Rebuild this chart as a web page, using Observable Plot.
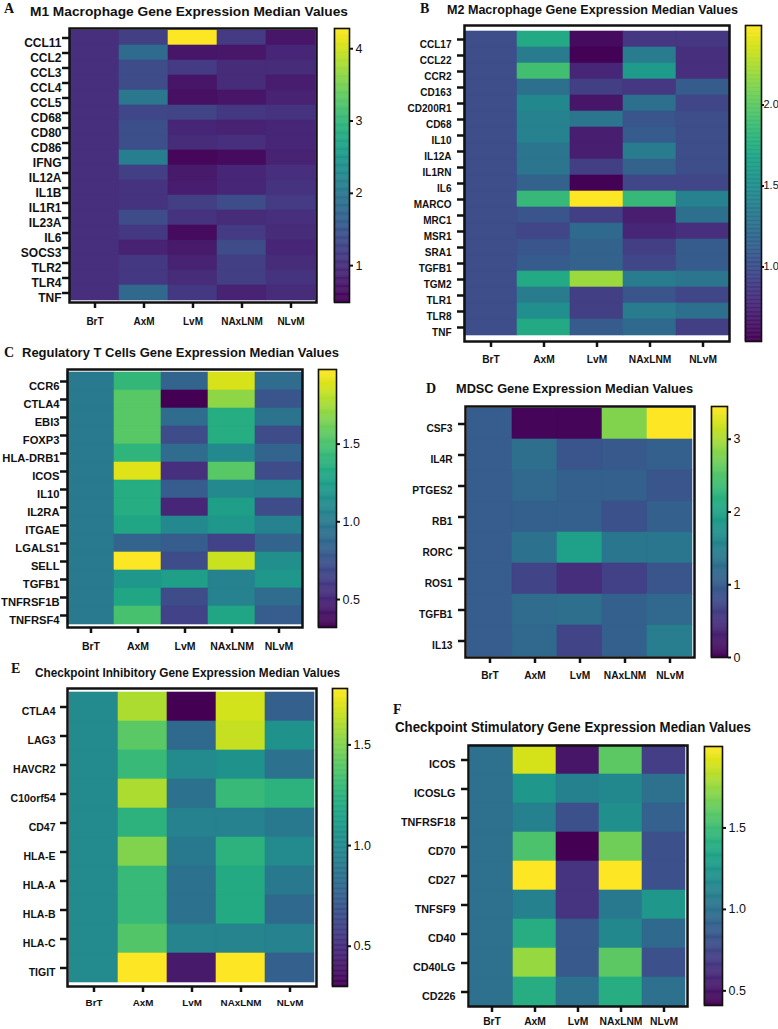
<!DOCTYPE html>
<html><head><meta charset="utf-8">
<script src="https://cdn.jsdelivr.net/npm/d3@7"></script>
<script src="https://cdn.jsdelivr.net/npm/@observablehq/plot@0.6"></script>
<style>
body{margin:0;background:#fff;}
#fig{position:relative;width:778px;height:1029px;overflow:hidden;background:#fff;font-family:"Liberation Sans",Arial,sans-serif;}
#fig > svg{position:absolute;max-width:none;}
</style></head><body><div id="fig"></div>
<script>
const groups = ["BrT","AxM","LvM","NAxLNM","NLvM"];

const genesA = ["CCL11","CCL2","CCL3","CCL4","CCL5","CD68","CD80","CD86","IFNG","IL12A","IL1B","IL1R1","IL23A","IL6","SOCS3","TLR2","TLR4","TNF"];
const valuesA = [
  [1,1.2,4.28,1.15,0.7],
  [1,1.8,0.7,0.72,0.9],
  [1,1.35,1.15,0.95,0.95],
  [1,1.35,0.7,0.95,0.8],
  [1,2.0,0.65,0.7,0.85],
  [1,1.3,1.25,1.1,1.05],
  [1,1.4,0.9,0.85,0.9],
  [1,1.4,0.95,1.0,0.9],
  [1,2.1,0.55,0.6,0.85],
  [1,1.2,0.75,0.9,1.0],
  [1,1.05,0.8,0.9,1.05],
  [1,1.05,1.2,1.35,1.15],
  [1,1.35,1.05,0.95,1.0],
  [1,1.1,0.6,1.15,0.95],
  [1,0.85,0.75,1.35,0.9],
  [1,1.1,0.85,1.2,0.95],
  [1,1.1,0.95,1.2,1.05],
  [1,1.75,1.1,0.85,0.95]
];
const ticksA = [1,2,3,4];

const genesB = ["CCL17","CCL22","CCR2","CD163","CD200R1","CD68","IL10","IL12A","IL1RN","IL6","MARCO","MRC1","MSR1","SRA1","TGFB1","TGM2","TLR1","TLR8","TNF"];
const valuesB = [
  [1,1.72,0.6,0.85,0.85],
  [1,1.35,0.55,1.35,0.8],
  [1,1.9,0.75,1.6,0.8],
  [1,1.25,0.9,0.85,1.1],
  [1,1.45,0.65,1.25,0.95],
  [1,1.4,1.3,1.05,1.0],
  [1,1.4,0.7,1.1,1.0],
  [1,1.3,0.7,1.35,1.0],
  [1,1.3,0.9,1.15,1.0],
  [1,1.15,0.55,0.95,0.95],
  [1,1.85,2.49,1.85,1.4],
  [1,1.05,0.9,0.7,1.25],
  [1,0.95,1.2,0.75,0.8],
  [1,1.05,1.15,0.9,1.1],
  [1,1.1,1.15,0.95,1.1],
  [1,1.72,2.2,1.35,1.3],
  [1,1.35,0.9,1.05,0.95],
  [1,1.5,0.9,1.35,1.25],
  [1,1.72,1.1,1.2,0.9]
];
const ticksB = [1.0,1.5,2.0];

const genesC = ["CCR6","CTLA4","EBI3","FOXP3","HLA-DRB1","ICOS","IL10","IL2RA","ITGAE","LGALS1","SELL","TGFB1","TNFRSF1B","TNFRSF4"];
const valuesC = [
  [1,1.42,0.85,1.88,0.9],
  [1,1.55,0.32,1.7,0.75],
  [1,1.55,0.9,1.35,0.95],
  [1,1.55,0.7,1.35,0.7],
  [1,1.4,0.9,1.1,0.85],
  [1,1.9,0.55,1.55,0.7],
  [1,1.35,0.8,1.1,1.05],
  [1,1.35,0.5,1.25,0.7],
  [1,1.3,1.1,1.2,1.05],
  [1,0.85,0.8,0.65,0.85],
  [1,1.98,0.7,1.85,1.15],
  [1,1.2,1.25,1.05,1.2],
  [1,1.3,0.7,1.05,0.9],
  [1,1.5,0.65,1.3,0.8]
];
const ticksC = [0.5,1.0,1.5];

const genesD = ["CSF3","IL4R","PTGES2","RB1","RORC","ROS1","TGFB1","IL13"];
const valuesD = [
  [1,0.05,0.05,2.8,3.45],
  [1,1.25,0.9,0.95,1.05],
  [1,1.15,1.05,1.05,0.9],
  [1,1.05,1.05,0.85,1.05],
  [1,1.3,1.95,1.35,1.35],
  [1,0.7,0.45,0.65,0.9],
  [1,1.2,1.25,1.05,1.15],
  [1,1.15,0.7,1.05,1.45]
];
const ticksD = [0,1,2,3];

const genesE = ["CTLA4","LAG3","HAVCR2","C10orf54","CD47","HLA-E","HLA-A","HLA-B","HLA-C","TIGIT"];
const valuesE = [
  [1,1.6,0.30,1.68,0.75],
  [1,1.4,0.8,1.65,1.05],
  [1,1.3,1.0,1.05,0.85],
  [1,1.6,0.85,1.3,1.25],
  [1,1.25,0.95,0.95,0.9],
  [1,1.5,0.9,1.25,1.0],
  [1,1.3,0.85,1.2,0.9],
  [1,1.3,0.85,1.2,0.8],
  [1,1.38,0.97,0.97,0.95],
  [1,1.78,0.4,1.78,0.75]
];
const ticksE = [0.5,1.0,1.5];

const genesF = ["ICOS","ICOSLG","TNFRSF18","CD70","CD27","TNFSF9","CD40","CD40LG","CD226"];
const valuesF = [
  [1,1.9,0.5,1.6,0.7],
  [1,1.25,1.1,1.15,1.0],
  [1,1.1,0.8,1.2,0.9],
  [1,1.55,0.41,1.65,0.8],
  [1,2.0,0.65,2.0,0.8],
  [1,1.1,0.65,1.05,1.25],
  [1,1.4,0.85,1.15,0.95],
  [1,1.75,0.85,1.6,0.8],
  [1,1.4,1.0,1.4,1.0]
];
const ticksF = [0.5,1.0,1.5];

const titles = [
  {letter:"A", text:"M1 Macrophage Gene Expression Median Values"},
  {letter:"B", text:"M2 Macrophage Gene Expression Median Values"},
  {letter:"C", text:"Regulatory T Cells Gene Expression Median Values"},
  {letter:"D", text:"MDSC Gene Expression Median Values"},
  {letter:"E", text:"Checkpoint Inhibitory Gene Expression Median Values"},
  {letter:"F", text:"Checkpoint Stimulatory Gene Expression Median Values"}
];

const FONT = '"Liberation Sans", Arial, Helvetica, sans-serif';
const fig = document.getElementById("fig");

function place(svg, left, top){
  svg.style.left = left + "px";
  svg.style.top = top + "px";
  fig.appendChild(svg);
}

function colorOpt(lo, hi){
  return {type:"linear", scheme:"viridis", domain:[lo,hi], clamp:true};
}

function heat(p){
  const data = p.genes.flatMap((g,i)=>groups.map((c,j)=>({gene:g, group:c, value:p.values[i][j]})));
  const top = p.y0 - 10;
  const svg = Plot.plot({
    width: p.x1 - p.left + 10,
    height: p.y1 - top + 40,
    marginLeft: p.x0 - p.left, marginRight: 10, marginTop: 10, marginBottom: 40,
    style: {fontFamily: FONT, background: "transparent", color: "#111"},
    x: {domain: groups, padding: 0, axis: null},
    y: {domain: p.genes, padding: 0, axis: null},
    color: colorOpt(p.lo, p.hi),
    marks: [
      Plot.cell(data, {x:"group", y:"gene", fill:"value", stroke:"value", strokeWidth:0.6, inset:0}),
      Plot.frame({stroke:"#111", strokeWidth:2.5}),
      Plot.axisY({tickSize:7, strokeWidth:2.5, fill:"none", label:null}),
      Plot.axisY({tickSize:0, tickPadding:p.yPad, dy:5, fontSize:p.yFont, fontWeight:"bold", label:null}),
      Plot.axisX({tickSize:6, strokeWidth:2.5, fill:"none", label:null}),
      Plot.axisX({tickSize:0, tickPadding:p.xPad, fontSize:p.xFont, fontWeight:"bold", label:null})
    ]
  });
  place(svg, p.left, top);
}

function bar(p){
  const n = 240;
  const steps = d3.range(n).map(i => ({a: p.lo + (p.hi-p.lo)*i/n, b: p.lo + (p.hi-p.lo)*(i+1)/n}));
  const svg = Plot.plot({
    width: (p.x1 - p.x0) + 4 + 40,
    height: (p.y1 - p.y0) + 20,
    marginLeft: 4, marginRight: 40, marginTop: 10, marginBottom: 10,
    style: {fontFamily: FONT, background: "transparent", color: "#111"},
    x: {domain: [0,1], axis: null},
    y: {domain: [p.lo, p.hi], axis: null},
    color: colorOpt(p.lo, p.hi),
    marks: [
      Plot.rect(steps, {x1: () => 0, x2: () => 1, y1: "a", y2: "b", fill: d => (d.a+d.b)/2, stroke: d => (d.a+d.b)/2, strokeWidth: 0.5}),
      Plot.frame({stroke:"#111", strokeWidth:1.6}),
      Plot.axisY(p.ticks, {anchor:"right", tickSize:p.tickSize ?? 3, strokeWidth:2, tickPadding:p.pad ?? 3, tickFormat:p.fmt, fontSize:p.fs ?? 12.5, label:null})
    ]
  });
  place(svg, p.x0 - 4, p.y0 - 10);
}

heat({left:0, x0:69, x1:316, y0:28, y1:302, genes:genesA, values:valuesA, lo:0.49, hi:4.28, yPad:8, yFont:12, xPad:15, xFont:10});
bar({x0:334, x1:349, y0:28, y1:302, lo:0.49, hi:4.28, ticks:ticksA, fmt:d3.format("d")});

heat({left:389, x0:464, x1:729, y0:25, y1:341, genes:genesB, values:valuesB, lo:0.54, hi:2.49, yPad:13, yFont:10, xPad:14, xFont:10.2});
bar({x0:745, x1:761, y0:25, y1:341, lo:0.54, hi:2.49, ticks:ticksB, fmt:d3.format(".1f"), fs:11, pad:0, tickSize:2});

heat({left:0, x0:67, x1:302, y0:369, y1:627, genes:genesC, values:valuesC, lo:0.32, hi:1.98, yPad:8, yFont:11.2, xPad:15, xFont:10.5});
bar({x0:318, x1:336, y0:369, y1:627, lo:0.32, hi:1.98, ticks:ticksC, fmt:d3.format(".1f")});

heat({left:389, x0:465, x1:694, y0:406, y1:657, genes:genesD, values:valuesD, lo:0, hi:3.45, yPad:13, yFont:10.2, xPad:14, xFont:10.2});
bar({x0:711, x1:727, y0:406, y1:657, lo:0, hi:3.45, ticks:ticksD, fmt:d3.format("d")});

heat({left:0, x0:67, x1:316, y0:688, y1:986, genes:genesE, values:valuesE, lo:0.30, hi:1.78, yPad:12, yFont:10.5, xPad:13, xFont:9.8});
bar({x0:332, x1:347, y0:688, y1:986, lo:0.30, hi:1.78, ticks:ticksE, fmt:d3.format(".1f")});

heat({left:389, x0:468, x1:687, y0:745, y1:1006, genes:genesF, values:valuesF, lo:0.41, hi:2.0, yPad:13, yFont:10.8, xPad:11, xFont:10.3});
bar({x0:704, x1:722, y0:746, y1:1005, lo:0.41, hi:2.0, ticks:ticksF, fmt:d3.format(".1f")});

// titles and panel letters
const tpos = [
  {lx:4,  ly:13,  tx:30,  ty:15.5, tw:318, fs:13.5},
  {lx:420,ly:13,  tx:447, ty:13.5, tw:291, fs:12.5},
  {lx:4,  ly:357, tx:22,  ty:356.7,tw:317, fs:13},
  {lx:426,ly:393, tx:456, ty:393.3,tw:237, fs:13},
  {lx:11, ly:673, tx:35,  ty:676.7,tw:305, fs:12.3},
  {lx:393,ly:714, tx:395, ty:732.3,tw:356, fs:14}
];
const over = d3.create("svg").attr("width",778).attr("height",1029)
  .style("left","0px").style("top","0px").style("pointer-events","none");
titles.forEach((t,i)=>{
  const p = tpos[i];
  over.append("text").attr("x",p.lx).attr("y",p.ly)
    .attr("font-family",'"Liberation Serif","Times New Roman",serif').attr("font-weight","bold").attr("font-size",14)
    .attr("fill","#111").text(t.letter);
  over.append("text").attr("x",p.tx).attr("y",p.ty)
    .attr("font-family",FONT).attr("font-weight","bold").attr("font-size",p.fs)
    .attr("textLength",p.tw).attr("lengthAdjust","spacingAndGlyphs")
    .attr("fill","#111").text(t.text);
});
fig.appendChild(over.node());
</script>
</body></html>
